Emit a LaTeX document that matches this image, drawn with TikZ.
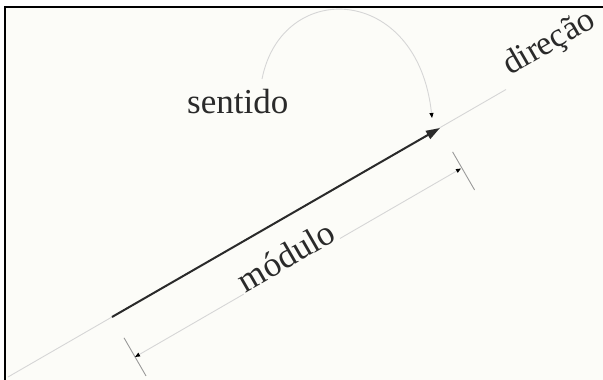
\documentclass[tikz,border=0pt]{standalone}
\usepackage{fontspec}
\setmainfont{Liberation Serif}
\usetikzlibrary{arrows.meta}
\definecolor{bg}{HTML}{FCFCF8}
\definecolor{ink}{HTML}{2A2A2A}
\definecolor{faint}{HTML}{D6D6D6}
\definecolor{tickc}{HTML}{9A9A9A}
\tikzset{
  lbl/.style={text=ink, font=\fontsize{35}{40}\selectfont, inner sep=0pt},
  guide/.style={draw=faint, line width=0.9pt},
  vec/.style={draw=ink, line width=2pt, -{Triangle[length=14pt,width=9pt]}},
  dim/.style={draw=faint, line width=0.9pt, {Triangle[length=5pt,width=4pt,color=black]}-{Triangle[length=5pt,width=4pt,color=black]}},
  tickline/.style={draw=tickc, line width=0.9pt},
  frame/.style={draw=black, line width=2pt}
}
\begin{document}
\begin{tikzpicture}[x=1pt,y=-1pt]
\useasboundingbox (0,0) rectangle (603,380);
\fill[white] (0,0) rectangle (603,380);
\fill[bg] (5,7) rectangle (603,380);
% points
\coordinate (L0) at (8,377);
\coordinate (L1) at (506,89.5);
\coordinate (A) at (112,317);
\coordinate (B) at (440,128);
\coordinate (D1) at (135,357);
\coordinate (D2) at (461,168.5);
\coordinate (T1a) at (124,337.8);
\coordinate (T1b) at (146,375.9);
\coordinate (T2a) at (452.6,151.9);
\coordinate (T2b) at (474.6,190);
\coordinate (S0) at (262,79);
\coordinate (S1) at (432,118);
% direction line
\draw[guide] (L0) -- (L1);
% vector
\draw[vec] (A) -- (B);
% dimension
\draw[tickline] (T1a) -- (T1b);
\draw[tickline] (T2a) -- (T2b);
\draw[dim] (D1) -- (D2);
\node[lbl, fill=bg, rotate=30, anchor=base, inner sep=2pt] (mod) at (291.8,266.3) {módulo};
% direction label
\node[lbl, rotate=30, anchor=base west, font=\fontsize{34}{38}\selectfont] (dir) at (510,76) {direção};
% sentido
\node[lbl, anchor=base west] (sen) at (187,113) {sentido};
\draw[draw=faint, line width=0.9pt, -{Triangle[length=5pt,width=4pt,color=black]}] (S0) .. controls (282,-22) and (418,-16) .. (S1);
% frame
\draw[frame] (5,381) -- (5,7) -- (604,7);
\end{tikzpicture}
\end{document}
